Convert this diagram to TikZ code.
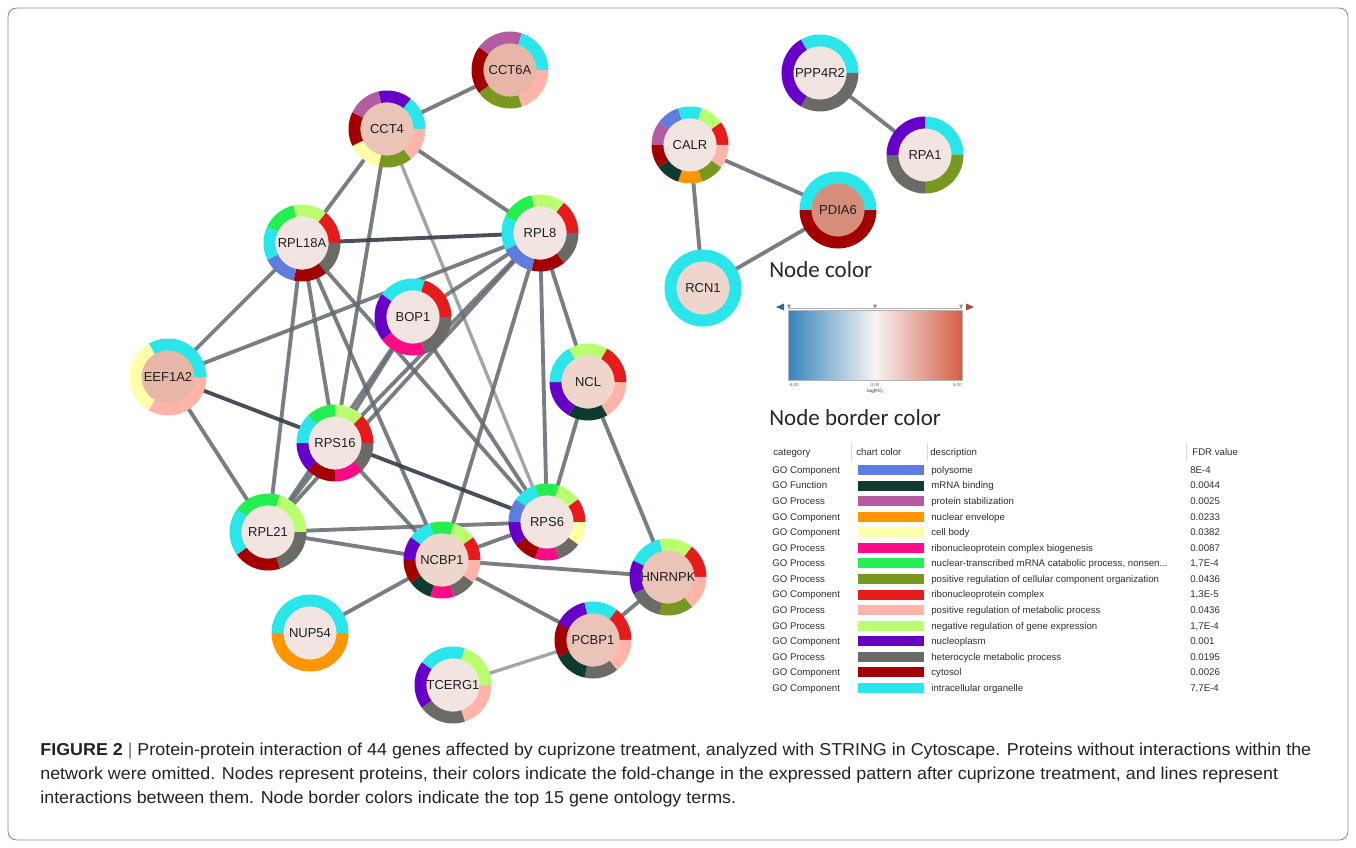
\documentclass[tikz,border=0pt]{standalone}
\usepackage{fontspec}
\setmainfont{Liberation Sans}
\newfontfamily\legfont{Carlito}
\newfontfamily\capfont{Liberation Sans}
\usepackage{graphicx}
\newlength\capw
\newcommand\capsize{\fontsize{9.8}{11}\selectfont}
\newcommand\capone{\capfont\capsize\textbf{FIGURE 2} {\color{black!55}|} Protein-protein interaction of 44 genes affected by cuprizone treatment, analyzed with STRING in Cytoscape. Proteins without interactions within the}
\AtBeginDocument{\settowidth\capw{\capone}}
\pgfdeclarelayer{bg}
\pgfsetlayers{bg,main}
% GO colours
\definecolor{cpoly}{RGB}{95,125,220}
\definecolor{cteal}{RGB}{15,58,48}
\definecolor{corch}{RGB}{180,92,160}
\definecolor{corange}{RGB}{255,150,0}
\definecolor{cyel}{RGB}{255,255,170}
\definecolor{cmag}{RGB}{255,10,135}
\definecolor{cgreen}{RGB}{35,240,80}
\definecolor{colive}{RGB}{120,152,32}
\definecolor{cred}{RGB}{230,28,28}
\definecolor{cpink}{RGB}{255,180,170}
\definecolor{clgreen}{RGB}{185,255,112}
\definecolor{cpurp}{RGB}{102,0,200}
\definecolor{cgray}{RGB}{106,106,102}
\definecolor{cdred}{RGB}{162,0,0}
\definecolor{ccyan}{RGB}{42,230,235}
% node fills
\definecolor{fl}{RGB}{242,229,225}
\definecolor{fm}{RGB}{238,214,205}
\definecolor{fs}{RGB}{235,196,184}
\definecolor{fsa}{RGB}{232,182,168}
\definecolor{fd}{RGB}{214,142,124}
% edges & misc
\definecolor{edgec}{RGB}{98,104,112}
\definecolor{edged}{RGB}{52,60,72}
\definecolor{edgel}{RGB}{145,150,156}
\definecolor{gblue}{RGB}{52,132,186}
\definecolor{gwhite}{RGB}{247,244,244}
\definecolor{gred}{RGB}{214,94,70}
\definecolor{tabc}{RGB}{45,45,45}
\definecolor{capc}{RGB}{35,35,35}
\tikzset{
  prot/.style={circle, minimum size=1.08cm, inner sep=0pt, text=black!88,
    font=\fontsize{7.4}{8}\selectfont},
  ppi/.style={draw=edgec, line width=2.2pt, draw opacity=0.85},
  ppid/.style={draw=edged, line width=2.2pt, draw opacity=0.9},
  ppil/.style={draw=edgel, line width=1.9pt, draw opacity=0.85},
  tabtxt/.style={anchor=base west, inner sep=0pt, text=tabc,
    font=\fontsize{5.5}{6}\selectfont},
  swatch/.style={rectangle, minimum width=1.32cm, minimum height=0.2cm, inner sep=0pt},
  legtitle/.style={anchor=base west, inner sep=0pt, text=black!85,
    font=\legfont\fontsize{13.1}{15}\selectfont},
  tiny/.style={inner sep=0pt, text=black!60, font=\fontsize{2.6}{3}\selectfont},
  capline/.style={anchor=base west, inner sep=0pt, text=capc}
}
% ring of GO segments around a named node: #1 node, #2 start angle, #3 colours
\newcommand\pring[3]{%
  \foreach \rc [count=\n] in {#3} {\xdef\rcount{\n}}%
  \foreach \rc [count=\i from 0] in {#3} {%
    \pgfmathsetmacro\aA{#2-\i*360/\rcount}%
    \pgfmathsetmacro\aB{#2-(\i+1)*360/\rcount}%
    \fill[\rc] ([shift={(\aA:38.5)}]#1.center) arc[start angle=\aA, end angle=\aB, radius=38.5]
      -- ([shift={(\aB:26.6)}]#1.center) arc[start angle=\aB, end angle=\aA, radius=26.6] -- cycle;
  }%
}
% table row
\newcommand\trow[5]{%
  \pgfmathsetmacro\tc{-(470+15.57*#1)}%
  \pgfmathsetmacro\tb{\tc-3.4}%
  \node[tabtxt] (cat#1) at (772,\tb) {#2};
  \node[swatch, fill=#3] (sw#1) at (891,\tc) {};
  \node[tabtxt] (desc#1) at (931,\tb) {#4};
  \node[tabtxt] (fdr#1) at (1190,\tb) {#5};
}
\begin{document}
\begin{tikzpicture}[x=0.02cm, y=0.02cm]
\useasboundingbox (0,0) rectangle (1356,-848);
\begin{pgfonlayer}{bg}
\fill[white] (0,0) rectangle (1356,-848);
\end{pgfonlayer}
\draw[black!45, line width=0.5pt, rounded corners=5pt] (8,-8) rectangle (1348,-840);

% ---------- protein nodes ----------
\node[prot, fill=fsa] (CCT6A) at (510,-70) {CCT6A};
\node[prot, fill=fs] (CCT4) at (387,-129) {CCT4};
\node[prot, fill=fl] (RPL18A) at (302,-243) {RPL18A};
\node[prot, fill=fl] (RPL8) at (540,-233) {RPL8};
\node[prot, fill=fl] (BOP1) at (413,-317) {BOP1};
\node[prot, fill=fsa] (EEF1A2) at (168,-377) {EEF1A2};
\node[prot, fill=fl] (RPS16) at (335,-443) {RPS16};
\node[prot, fill=fm] (NCL) at (588,-382) {NCL};
\node[prot, fill=fl] (RPL21) at (268,-532) {RPL21};
\node[prot, fill=fl] (RPS6) at (547,-522) {RPS6};
\node[prot, fill=fm] (NCBP1) at (442,-560) {NCBP1};
\node[prot, fill=fs] (HNRNPK) at (668,-577) {HNRNPK};
\node[prot, fill=fl] (NUP54) at (310,-633) {NUP54};
\node[prot, fill=fs] (PCBP1) at (593,-640) {PCBP1};
\node[prot, fill=fl] (TCERG1) at (453,-685) {TCERG1};
\node[prot, fill=fl] (PPP4R2) at (820,-73) {PPP4R2};
\node[prot, fill=fl] (RPA1) at (925,-155) {RPA1};
\node[prot, fill=fl] (CALR) at (690,-145) {CALR};
\node[prot, fill=fd] (PDIA6) at (838,-210) {PDIA6};
\node[prot, fill=fm] (RCN1) at (703,-288) {RCN1};

% ---------- rings ----------
\pring{CCT6A}{144}{corch,ccyan,cpink,colive,cdred}
\pring{CCT4}{103}{cpurp,ccyan,cpink,colive,cyel,cdred,corch}
\pring{RPL18A}{103}{clgreen,cred,cgray,cdred,cpoly,ccyan,cgreen}
\pring{RPL8}{103}{clgreen,cred,cgray,cdred,cpoly,ccyan,cgreen}
\pring{BOP1}{144}{ccyan,cred,cgray,cmag,cpurp}
\pring{EEF1A2}{120}{ccyan,cpink,cyel}
\pring{RPS16}{135}{cgreen,clgreen,cred,cgray,cmag,cdred,cpurp,ccyan}
\pring{NCL}{120}{clgreen,cred,cpink,cteal,cpurp,ccyan}
\pring{RPL21}{144}{cgreen,clgreen,cgray,cdred,ccyan}
\pring{RPS6}{144}{ccyan,cgreen,clgreen,cred,cyel,cgray,cmag,cdred,cpurp,cpoly}
\pring{NCBP1}{144}{ccyan,cgreen,clgreen,cred,cpink,cgray,cmag,cteal,cdred,cpurp}
\pring{HNRNPK}{103}{clgreen,cred,cpink,colive,cgray,cpurp,ccyan}
\pring{NUP54}{180}{ccyan,corange}
\pring{PCBP1}{103}{ccyan,cred,cpink,cgray,cteal,cdred,cpurp}
\pring{TCERG1}{144}{ccyan,clgreen,cpink,cgray,cpurp}
\pring{PPP4R2}{120}{ccyan,cgray,cpurp}
\pring{RPA1}{90}{ccyan,colive,cgray,cpurp}
\pring{CALR}{144}{cpoly,ccyan,clgreen,cred,cpink,colive,corange,cteal,cdred,corch}
\pring{PDIA6}{180}{ccyan,cdred}
\pring{RCN1}{90}{ccyan}

% ---------- interactions ----------
\begin{pgfonlayer}{bg}
\draw[ppi] (CCT4.center) -- (CCT6A.center);
\draw[ppi] (CCT4.center) -- (RPL18A.center);
\draw[ppi] (CCT4.center) -- (RPL8.center);
\draw[ppi] (CCT4.center) -- (RPS16.center);
\draw[ppil] (CCT4.center) -- (RPS6.center);
\draw[ppid] (RPL18A.center) -- (RPL8.center);
\draw[ppi] (RPL18A.center) -- (EEF1A2.center);
\draw[ppi] (RPL18A.center) -- (RPL21.center);
\draw[ppi] (RPL18A.center) -- (RPS16.center);
\draw[ppi] (RPL18A.center) -- (NCBP1.center);
\draw[ppi] (RPL18A.center) -- (RPS6.center);
\draw[ppi] (RPL8.center) -- (EEF1A2.center);
\draw[ppi] (RPL8.center) -- (BOP1.center);
\draw[ppi] (RPL8.center) -- (RPS16.center);
\draw[ppi] (RPL8.center) -- (RPL21.center);
\draw[ppi] (RPL8.center) -- (NCBP1.center);
\draw[ppi] (RPL8.center) -- (RPS6.center);
\draw[ppi] (RPL8.center) -- (NCL.center);
\draw[ppi] (BOP1.center) -- (RPS16.center);
\draw[ppi] (BOP1.center) -- (RPL21.center);
\draw[ppi] (BOP1.center) -- (RPS6.center);
\draw[ppid] (EEF1A2.center) -- (RPS6.center);
\draw[ppi] (EEF1A2.center) -- (RPL21.center);
\draw[ppi] (RPS16.center) -- (RPL21.center);
\draw[ppi] (RPS16.center) -- (NCBP1.center);
\draw[ppi] (RPL21.center) -- (RPS6.center);
\draw[ppi] (RPL21.center) -- (NCBP1.center);
\draw[ppi] (NCBP1.center) -- (RPS6.center);
\draw[ppi] (NCBP1.center) -- (HNRNPK.center);
\draw[ppi] (NCBP1.center) -- (PCBP1.center);
\draw[ppi] (NCBP1.center) -- (NUP54.center);
\draw[ppi] (NCL.center) -- (RPS6.center);
\draw[ppi] (NCL.center) -- (HNRNPK.center);
\draw[ppi] (HNRNPK.center) -- (PCBP1.center);
\draw[ppil] (PCBP1.center) -- (TCERG1.center);
\draw[ppi] (CALR.center) -- (PDIA6.center);
\draw[ppi] (CALR.center) -- (RCN1.center);
\draw[ppi] (PDIA6.center) -- (RCN1.center);
\draw[ppi] (PPP4R2.center) -- (RPA1.center);
\end{pgfonlayer}

% ---------- node colour legend ----------
\node[legtitle] (nctitle) at (769,-277) {Node color};
\shade[left color=gblue, right color=gred, middle color=gwhite] (788,-310) rectangle (962,-380);
\draw[black!30, line width=0.3pt] (788,-310) rectangle (962,-380);
\draw[black!30, line width=0.3pt] (788,-308.5) -- (962,-308.5);
\fill[gblue!80!black] (776,-307) -- (784,-303.5) -- (784,-310.5) -- cycle;
\fill[gred!80!black] (974,-307) -- (966,-303.5) -- (966,-310.5) -- cycle;
\foreach \gx in {789,875,961}
  \fill[black!45] (\gx-2,-304.5) -- (\gx+2,-304.5) -- (\gx,-308.5) -- cycle;
\node[tiny, anchor=west] (gmin) at (788,-385) {-5,00};
\node[tiny] (gmid) at (875,-385) {0,00};
\node[tiny, anchor=east] (gmax) at (962,-385) {5,00};
\node[tiny, font=\bfseries\fontsize{2.6}{3}\selectfont] (glab) at (875,-391) {log(FC)};

% ---------- node border colour legend ----------
\node[legtitle] (nbtitle) at (769,-425) {Node border color};
\foreach \sx in {851,927,1186}
  \draw[black!15, line width=0.4pt] (\sx,-443) -- (\sx,-461);
\node[tabtxt] (hcat) at (773,-455.4) {category};
\node[tabtxt] (hcol) at (856,-455.4) {chart color};
\node[tabtxt] (hdesc) at (930,-455.4) {description};
\node[tabtxt] (hfdr) at (1192,-455.4) {FDR value};
\trow{0}{GO Component}{cpoly}{polysome}{8E-4}
\trow{1}{GO Function}{cteal}{mRNA binding}{0.0044}
\trow{2}{GO Process}{corch}{protein stabilization}{0.0025}
\trow{3}{GO Component}{corange}{nuclear envelope}{0.0233}
\trow{4}{GO Component}{cyel}{cell body}{0.0382}
\trow{5}{GO Process}{cmag}{ribonucleoprotein complex biogenesis}{0.0087}
\trow{6}{GO Process}{cgreen}{nuclear-transcribed mRNA catabolic process, nonsen...}{1,7E-4}
\trow{7}{GO Process}{colive}{positive regulation of cellular component organization}{0.0436}
\trow{8}{GO Component}{cred}{ribonucleoprotein complex}{1,3E-5}
\trow{9}{GO Process}{cpink}{positive regulation of metabolic process}{0.0436}
\trow{10}{GO Process}{clgreen}{negative regulation of gene expression}{1,7E-4}
\trow{11}{GO Component}{cpurp}{nucleoplasm}{0.001}
\trow{12}{GO Process}{cgray}{heterocycle metabolic process}{0.0195}
\trow{13}{GO Component}{cdred}{cytosol}{0.0026}
\trow{14}{GO Component}{ccyan}{intracellular organelle}{7,7E-4}

% ---------- caption ----------
\pgfmathsetmacro\capr{723.4pt/\capw}
\node[capline] (cap1) at (40,-755) {\scalebox{\capr}[1]{\capone}};
\node[capline] (cap2) at (40,-779) {\scalebox{\capr}[1]{\capfont\capsize network were omitted. Nodes represent proteins, their colors indicate the fold-change in the expressed pattern after cuprizone treatment, and lines represent}};
\node[capline] (cap3) at (40,-803) {\scalebox{\capr}[1]{\capfont\capsize interactions between them. Node border colors indicate the top 15 gene ontology terms.}};
\end{tikzpicture}
\end{document}
